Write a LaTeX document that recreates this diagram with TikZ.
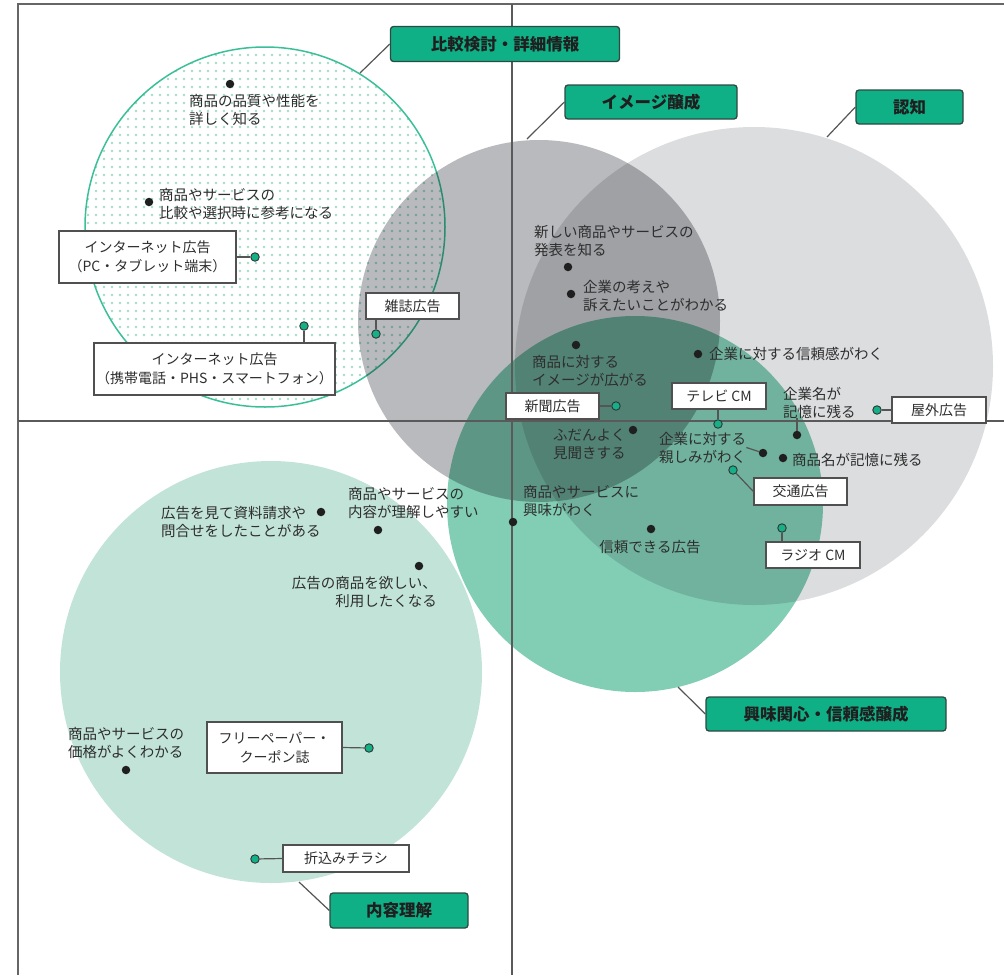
\documentclass[tikz,border=0pt]{standalone}
\usepackage{fontspec}
\setmainfont{Noto Sans CJK JP}
\usetikzlibrary{patterns.meta}
\definecolor{txt}{HTML}{2E2E2E}
\definecolor{ninchi}{HTML}{DCDDDF}
\definecolor{image}{HTML}{B9BABD}
\definecolor{kyomi}{HTML}{82CEB4}
\definecolor{naiyo}{HTML}{C2E4D8}
\definecolor{hikaku}{HTML}{3BBF98}
\definecolor{dotc}{HTML}{A2DCC7}
\definecolor{tgreen}{HTML}{10B087}
\definecolor{tline}{HTML}{2E4A40}
\definecolor{bline}{HTML}{505050}
\definecolor{connc}{HTML}{555555}
\definecolor{axisc}{HTML}{5A5A5A}
\definecolor{gdot}{HTML}{14B088}
\begin{document}
\begin{tikzpicture}[x=1pt,y=-1pt,
  dotb/.style={circle,fill=black!88,inner sep=0pt,minimum size=8.5pt},
  dotg/.style={circle,fill=gdot,draw=black!80,line width=0.9pt,inner sep=0pt,minimum size=8.5pt},
  media/.style={draw=bline,line width=1.3pt,fill=white,inner sep=0pt,align=center,
    font=\fontsize{14}{19}\selectfont,text=txt},
  title/.style={draw=tline,line width=1.3pt,fill=tgreen,rounded corners=3pt,inner sep=0pt,
    font=\fontsize{16.5}{20}\selectfont\bfseries,text=black!88},
  lbl/.style={inner sep=0pt,font=\fontsize{14.5}{18}\selectfont,text=txt,align=left},
  conn/.style={draw=connc,line width=1.2pt},
  axis/.style={draw=axisc,line width=1.3pt}]
\useasboundingbox (0,0) rectangle (1004,975);

% circles
\coordinate (cNaiyo) at (271,672);
\coordinate (cHikaku) at (265,227);
\coordinate (cNinchi) at (754,366);
\coordinate (cImage) at (539,321);
\coordinate (cKyomi) at (635,504);

\fill[white] (cHikaku) circle[radius=180pt];
\path[pattern={Dots[distance=8pt,radius=1.35pt]},pattern color=dotc] (cHikaku) circle[radius=180pt];
\draw[hikaku,line width=1.5pt] (cHikaku) circle[radius=180pt];

\begin{scope}[blend mode=multiply]
\fill[naiyo] (cNaiyo) circle[radius=211pt];
\fill[ninchi] (cNinchi) circle[radius=239pt];
\fill[image] (cImage) circle[radius=181pt];
\fill[kyomi] (cKyomi) circle[radius=188pt];
\end{scope}

% frame and axes
\coordinate (fTL) at (18,4);
\coordinate (fTR) at (1004,4);
\coordinate (fBL) at (18,975);
\draw[draw=black!60,line width=2pt] (fTR) -- (fTL) -- (fBL);
\coordinate (vTop) at (512,4);
\coordinate (vBot) at (512,975);
\coordinate (hL) at (18,421);
\coordinate (hR) at (1004,421);
\draw[axis] (vTop) -- (vBot);
\draw[axis] (hL) -- (hR);

% black dots and labels
\node[dotb] (d1) at (230,84) {};
\node[lbl,anchor=west] (t1) at (189,109.5) {商品の品質や性能を\\詳しく知る};
\node[dotb] (d2) at (149,202) {};
\node[lbl,anchor=west] (t2) at (159,204) {商品やサービスの\\比較や選択時に参考になる};
\node[dotb] (d3) at (568,267) {};
\node[lbl,anchor=west] (t3) at (534,241) {新しい商品やサービスの\\発表を知る};
\node[dotb] (d4) at (571,294) {};
\node[lbl,anchor=west] (t4) at (583,296) {企業の考えや\\訴えたいことがわかる};
\node[dotb] (d5) at (576,345) {};
\node[lbl,anchor=west] (t5) at (532,371.5) {商品に対する\\イメージが広がる};
\node[dotb] (d6) at (698,354) {};
\node[lbl,anchor=west] (t6) at (709,354) {企業に対する信頼感がわく};
\node[dotb] (d7) at (797,435) {};
\node[lbl,anchor=west] (t7) at (783,402.5) {企業名が\\記憶に残る};
\draw[conn] (d7) -- (d7 |- t7.south);
\node[dotb] (d8) at (633,430) {};
\node[lbl,anchor=west] (t8) at (553,444) {ふだんよく\\見聞きする};
\node[dotb] (d9) at (763,453) {};
\node[lbl,anchor=west] (t9) at (659,447.5) {企業に対する\\親しみがわく};
\draw[conn] (t9.east) -- (d9);
\node[dotb] (d10) at (783,458) {};
\node[lbl,anchor=west] (t10) at (792,460) {商品名が記憶に残る};
\node[dotb] (d11) at (513,522) {};
\node[lbl,anchor=west] (t11) at (523,500.5) {商品やサービスに\\興味がわく};
\node[dotb] (d12) at (651,529) {};
\node[lbl,anchor=center] (t12) at (650,547) {信頼できる広告};
\node[dotb] (d13) at (321,512) {};
\node[lbl,anchor=west] (t13) at (161,521.5) {広告を見て資料請求や\\問合せをしたことがある};
\node[dotb] (d14) at (378,530) {};
\node[lbl,anchor=west] (t14) at (348,503) {商品やサービスの\\内容が理解しやすい};
\node[dotb] (d15) at (419,566) {};
\node[lbl,anchor=east,align=right] (t15) at (437,592) {広告の商品を欲しい、\\利用したくなる};
\node[dotb] (d16) at (126,770) {};
\node[lbl,anchor=west] (t16) at (68,742.5) {商品やサービスの\\価格がよくわかる};

% media boxes
\node[media,minimum width=177pt,minimum height=52pt] (m1) at (147.5,257) {インターネット広告\\（PC・タブレット端末）};
\node[dotg] (g1) at (255,257) {};
\draw[conn] (m1.east) -- (g1);
\node[media,minimum width=93pt,minimum height=26pt] (m2) at (412.5,306) {雑誌広告};
\node[dotg] (g2) at (376,334) {};
\draw[conn] (g2) -- (g2 |- m2.south);
\node[media,minimum width=241pt,minimum height=52pt] (m3) at (214.5,369) {インターネット広告\\（携帯電話・PHS・スマートフォン）};
\node[dotg] (g3) at (304,326) {};
\draw[conn] (g3) -- (g3 |- m3.north);
\node[media,minimum width=93pt,minimum height=26pt] (m4) at (552.5,406) {新聞広告};
\node[dotg] (g4) at (616,406) {};
\draw[conn] (m4.east) -- (g4);
\node[media,minimum width=94pt,minimum height=26pt] (m5) at (719,396) {テレビ CM};
\node[dotg] (g5) at (718,424) {};
\draw[conn] (g5) -- (g5 |- m5.south);
\node[media,minimum width=94pt,minimum height=26pt] (m6) at (939,410) {屋外広告};
\node[dotg] (g6) at (877,410) {};
\draw[conn] (g6) -- (m6.west);
\node[media,minimum width=93pt,minimum height=27pt] (m7) at (800.5,491.5) {交通広告};
\node[dotg] (g7) at (733,470) {};
\draw[conn] (g7) -- (m7.west);
\node[media,minimum width=94pt,minimum height=26pt] (m8) at (813,555) {ラジオ CM};
\node[dotg] (g8) at (782,528) {};
\draw[conn] (g8) -- (g8 |- m8.north);
\node[media,minimum width=135pt,minimum height=51pt] (m9) at (274.5,747.5) {フリーペーパー・\\クーポン誌};
\node[dotg] (g9) at (369,748) {};
\draw[conn] (m9.east) -- (g9);
\node[media,minimum width=126pt,minimum height=27pt] (m10) at (346,858.5) {折込みチラシ};
\node[dotg] (g10) at (255,859) {};
\draw[conn] (g10) -- (m10.west);

% title boxes
\coordinate (e1) at (360,73);
\coordinate (e2) at (527,139);
\coordinate (e3) at (827,137);
\coordinate (e4) at (678,687);
\coordinate (e5) at (299,882);
\node[title,minimum width=229pt,minimum height=35pt] (T1) at (505,44) {比較検討・詳細情報};
\draw[conn] (T1.west) -- (e1);
\node[title,minimum width=172pt,minimum height=34pt] (T2) at (651,102) {イメージ醸成};
\draw[conn] (T2.west) -- (e2);
\node[title,minimum width=107pt,minimum height=34pt] (T3) at (909.5,107) {認知};
\draw[conn] (T3.west) -- (e3);
\node[title,minimum width=240pt,minimum height=34pt] (T4) at (826,714) {興味関心・信頼感醸成};
\draw[conn] (T4.west) -- (e4);
\node[title,minimum width=138pt,minimum height=35pt] (T5) at (399,910.5) {内容理解};
\draw[conn] (T5.west) -- (e5);
\end{tikzpicture}
\end{document}
